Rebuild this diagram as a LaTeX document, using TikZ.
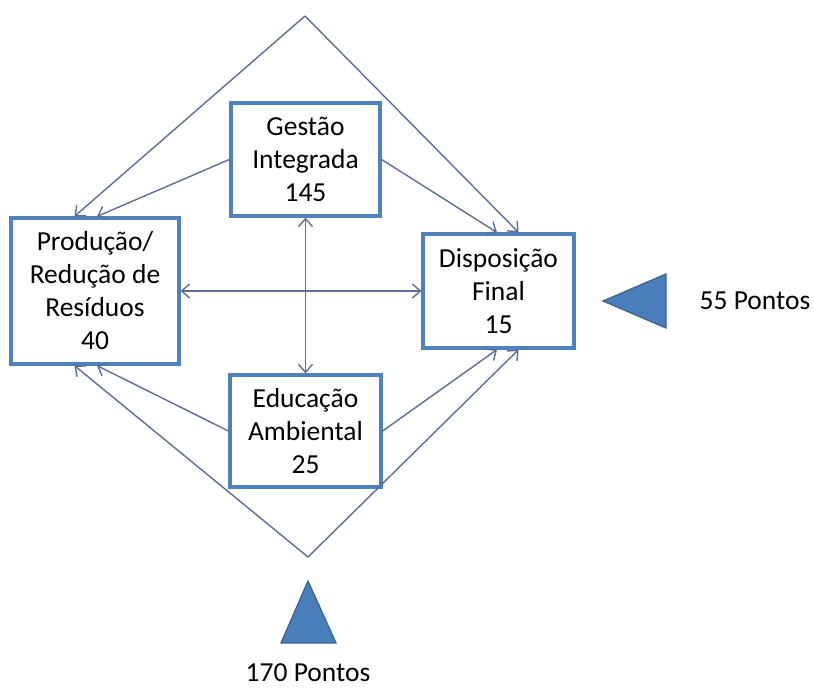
\documentclass[tikz,border=0pt]{standalone}
\usepackage{fontspec}
\setmainfont{Carlito}
\usetikzlibrary{arrows.meta,calc}
\definecolor{boxblue}{HTML}{4F81BD}
\definecolor{linkblue}{HTML}{5B6E98}
\definecolor{triblue}{HTML}{4A7EBB}
\definecolor{triedge}{HTML}{3A6494}
\tikzset{
  barb/.tip={Straight Barb[length=8pt,width=14pt,line width=1.4pt]},
  area/.style={draw=boxblue, line width=3.2pt, fill=white, inner sep=0pt,
    align=center, font=\fontsize{27.5}{33}\selectfont},
  link/.style={draw=linkblue, line width=1.4pt, -barb},
  twoway/.style={draw=linkblue, line width=1.4pt, barb-barb},
  marker/.style={fill=triblue, draw=triedge, line width=1.3pt, line join=miter},
  caption/.style={font=\fontsize{27.5}{33}\selectfont, inner sep=0pt}
}
\begin{document}
\begin{tikzpicture}[x=1pt,y=-1pt]
  \useasboundingbox (0,0) rectangle (814,689);

  % outer diamond apices
  \coordinate (top) at (305,16);
  \coordinate (bot) at (308,557);

  % the four areas
  \node[area, minimum width=149pt, minimum height=113pt] (gi) at (305.5,159.5) {Gestão\\Integrada\\145};
  \node[area, minimum width=168pt, minimum height=146pt] (pr) at (95,291) {Produção/\\Redução de\\Resíduos\\40};
  \node[area, minimum width=151pt, minimum height=114pt] (df) at (498.5,291) {Disposição\\Final\\15};
  \node[area, minimum width=151pt, minimum height=112pt] (ea) at (305.5,431) {Educação\\Ambiental\\25};

  % entry points on the side boxes
  \coordinate (prTa) at ($(pr.north west)!0.38!(pr.north east)$);
  \coordinate (prTb) at ($(pr.north west)!0.512!(pr.north east)$);
  \coordinate (prBa) at ($(pr.south west)!0.38!(pr.south east)$);
  \coordinate (prBb) at ($(pr.south west)!0.512!(pr.south east)$);
  \coordinate (dfTa) at ($(df.north west)!0.49!(df.north east)$);
  \coordinate (dfTb) at ($(df.north west)!0.63!(df.north east)$);
  \coordinate (dfBa) at ($(df.south west)!0.49!(df.south east)$);
  \coordinate (dfBb) at ($(df.south west)!0.63!(df.south east)$);

  % outer diamond
  \draw[link] (top) -- (prTa);
  \draw[link] (top) -- (dfTb);
  \draw[link] (bot) -- (prBa);
  \draw[link] (bot) -- (dfBb);

  % inner links
  \draw[link] (gi.west) -- (prTb);
  \draw[link] (gi.east) -- (dfTa);
  \draw[link] (ea.west) -- (prBb);
  \draw[link] (ea.east) -- (dfBa);
  \draw[twoway] (gi.south) -- (ea.north);
  \draw[twoway] (pr.east) -- (df.west);

  % score markers
  \draw[marker] (308,581) -- (336,643) -- (281,643) -- cycle;
  \draw[marker] (603,301) -- (666,274) -- (666,328) -- cycle;
  \node[caption] (p55) at (755,301) {55 Pontos};
  \node[caption] (p170) at (308,673) {170 Pontos};
\end{tikzpicture}
\end{document}
